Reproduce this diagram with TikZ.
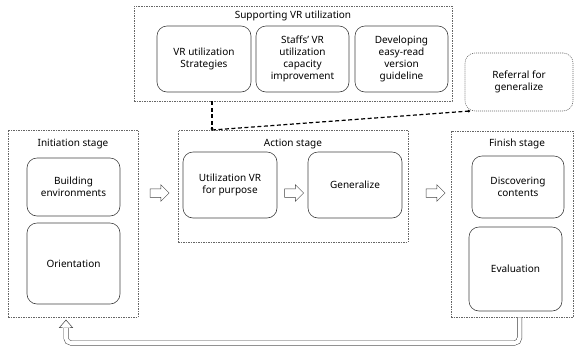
\documentclass[tikz,border=0pt]{standalone}
\usepackage{fontspec}
\setmainfont{Noto Sans}
\usetikzlibrary{shapes.arrows,arrows.meta}

\begin{document}
\begin{tikzpicture}[x=1pt, y=-1pt, font=\fontsize{10}{12}\selectfont]
	\tikzstyle{stagebox} = [draw=gray!80!black, dash pattern=on 1.5pt off 1pt, line width=0.5pt, inner sep=0pt]
	\tikzstyle{stepbox} = [draw=black!75, rounded corners=10pt, line width=0.6pt, align=center, inner sep=2pt]
	\tikzstyle{hollow} = [single arrow, draw=black!75, line width=0.5pt, inner xsep=0pt, inner ysep=4pt, single arrow head extend=4pt, minimum height=19pt]
	\tikzstyle{link} = [line width=1.2pt, dash pattern=on 4pt off 2.5pt, -{Circle[length=2.5pt]}]
	\useasboundingbox (0, 0) rectangle (575, 346);
	% supporting
	\node[stagebox, minimum width=318pt, minimum height=95pt] (sup) at (293, 53.5) {};
	\node (supt) at (293, 16) {Supporting VR utilization};
	\node[stepbox, minimum width=94pt, minimum height=66pt] (s1) at (204, 59) {VR utilization\\Strategies};
	\node[stepbox, minimum width=93pt, minimum height=66pt] (s2) at (302.5, 59) {Staffs' VR\\utilization\\capacity\\improvement};
	\node[stepbox, minimum width=93pt, minimum height=66pt] (s3) at (401.5, 59) {Developing\\easy-read\\version\\guideline};
	\node[stepbox, draw=gray!80!black, dash pattern=on 1pt off 1pt, minimum width=108pt, minimum height=58pt] (ref) at (519, 82) {Referral for\\generalize};
	% stages
	\node[stagebox, minimum width=130pt, minimum height=187pt] (ini) at (73, 223.5) {};
	\node (init) at (73, 144) {Initiation stage};
	\node[stepbox, minimum width=93pt, minimum height=58pt] (b1) at (73.5, 187) {Building\\environments};
	\node[stepbox, minimum width=93pt, minimum height=81pt] (b2) at (73.5, 263.5) {Orientation};
	\node[stagebox, minimum width=230pt, minimum height=112pt] (act) at (293, 186) {};
	\node (actt) at (293, 144) {Action stage};
	\node[stepbox, minimum width=94pt, minimum height=66pt] (a1) at (230, 185) {Utilization VR\\for purpose};
	\node[stepbox, minimum width=94pt, minimum height=66pt] (a2) at (355, 185) {Generalize};
	\node[stagebox, minimum width=122pt, minimum height=186pt] (fin) at (512, 224) {};
	\node (fint) at (517, 144) {Finish stage};
	\node[stepbox, minimum width=92pt, minimum height=62pt] (f1) at (518, 187) {Discovering\\contents};
	\node[stepbox, minimum width=93pt, minimum height=84pt] (f2) at (515.5, 269) {Evaluation};
	% arrows
	\node[hollow] (h1) at (157.5, 193) {};
	\node[hollow] (h2) at (292, 193) {};
	\node[hollow] (h3) at (433.5, 193) {};
	\coordinate (jn) at (212, 130);
	\coordinate (rc) at (470, 111);
	\draw [link] (sup.south -| jn)--(jn);
	\draw [link] (jn)--(rc);
	% back to the start
	\coordinate (tp) at (66, 320);
	\draw [draw=black!75, line width=0.5pt, double, double distance=4pt, rounded corners=5pt] (fin.south -| 519.5, 0)--(519.5, 343)--(66, 343)--(66, 327.5);
	\draw [draw=black!75, line width=0.5pt] (62.5, 327.5)--(59.5, 327.5)--(tp)--(72.5, 327.5)--(69.5, 327.5);
\end{tikzpicture}
\end{document}
